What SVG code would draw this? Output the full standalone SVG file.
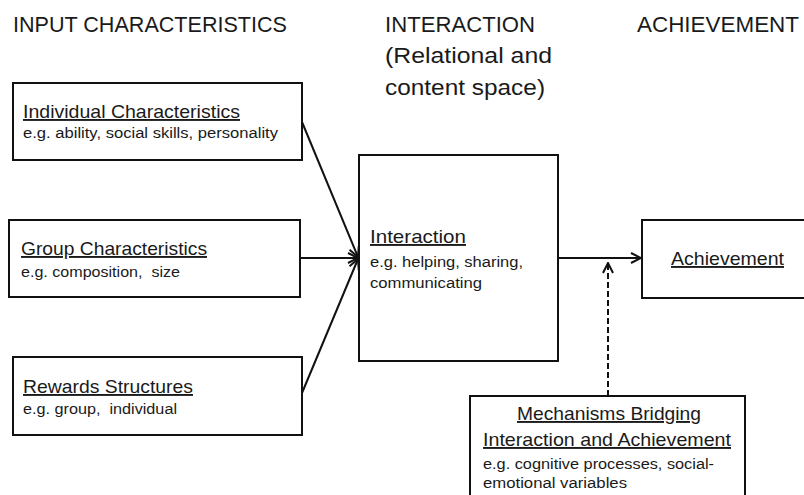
<svg xmlns="http://www.w3.org/2000/svg" width="804" height="495" viewBox="0 0 804 495">
  <style>
    text { font-family: "Liberation Sans", Arial, sans-serif; fill: #1a1a1a; }
    .hdr { font-size: 22px; }
    .ttl { font-size: 19px; text-decoration: underline; }
    .sub { font-size: 15.5px; }
    .box { fill: #ffffff; stroke: #111111; stroke-width: 2; }
    .conn { fill: none; stroke: #111111; stroke-width: 2; }
    .dash { stroke-dasharray: 6 3; }
  </style>
  <defs>
    <marker id="arrow" markerUnits="userSpaceOnUse" viewBox="0 0 12 12" refX="11" refY="6" markerWidth="12" markerHeight="12" orient="auto">
      <path d="M1,1 L11,6 L1,11" fill="none" stroke="#111111" stroke-width="2"/>
    </marker>
  </defs>
  <rect width="804" height="495" fill="#ffffff"/>

  <!-- column headings -->
  <g id="headings">
    <text class="hdr" x="13" y="32" textLength="274" lengthAdjust="spacingAndGlyphs">INPUT CHARACTERISTICS</text>
    <text class="hdr" x="385" y="32" textLength="150" lengthAdjust="spacingAndGlyphs">INTERACTION</text>
    <text class="hdr" x="385" y="63" textLength="167" lengthAdjust="spacingAndGlyphs">(Relational and</text>
    <text class="hdr" x="385" y="95" textLength="160" lengthAdjust="spacingAndGlyphs">content space)</text>
    <text class="hdr" x="637" y="32" textLength="162" lengthAdjust="spacingAndGlyphs">ACHIEVEMENT</text>
  </g>

  <!-- connectors -->
  <g id="connectors">
    <line class="conn" x1="302" y1="122" x2="358" y2="257" marker-end="url(#arrow)"/>
    <line class="conn" x1="300" y1="258" x2="358" y2="258" marker-end="url(#arrow)"/>
    <line class="conn" x1="302" y1="393" x2="358" y2="259" marker-end="url(#arrow)"/>
    <line class="conn" x1="558" y1="258" x2="641" y2="258" marker-end="url(#arrow)"/>
    <line class="conn dash" x1="608" y1="396" x2="608" y2="263" marker-end="url(#arrow)"/>
  </g>

  <g id="individual">
    <rect class="box" x="13" y="83" width="289" height="77"/>
    <text class="ttl" x="23" y="118" textLength="217" lengthAdjust="spacingAndGlyphs">Individual Characteristics</text>
    <text class="sub" x="23" y="138" textLength="255" lengthAdjust="spacingAndGlyphs">e.g. ability, social skills, personality</text>
  </g>

  <g id="group">
    <rect class="box" x="9" y="220" width="291" height="77"/>
    <text class="ttl" x="21" y="255" textLength="186" lengthAdjust="spacingAndGlyphs">Group Characteristics</text>
    <text class="sub" x="21" y="277" textLength="159" lengthAdjust="spacingAndGlyphs" xml:space="preserve">e.g. composition,  size</text>
  </g>

  <g id="rewards">
    <rect class="box" x="13" y="357" width="289" height="78"/>
    <text class="ttl" x="23" y="393" textLength="170" lengthAdjust="spacingAndGlyphs">Rewards Structures</text>
    <text class="sub" x="23" y="414" textLength="154" lengthAdjust="spacingAndGlyphs" xml:space="preserve">e.g. group,  individual</text>
  </g>

  <g id="interaction">
    <rect class="box" x="359" y="155" width="199" height="206"/>
    <text class="ttl" x="370" y="243" textLength="96" lengthAdjust="spacingAndGlyphs">Interaction</text>
    <text class="sub" x="370" y="267" textLength="153" lengthAdjust="spacingAndGlyphs">e.g. helping, sharing,</text>
    <text class="sub" x="370" y="288" textLength="112" lengthAdjust="spacingAndGlyphs">communicating</text>
  </g>

  <g id="achievement">
    <rect class="box" x="642" y="220" width="200" height="78"/>
    <text class="ttl" x="671" y="265" textLength="113" lengthAdjust="spacingAndGlyphs">Achievement</text>
  </g>

  <g id="mechanisms">
    <rect class="box" x="470" y="396" width="275" height="120"/>
    <text class="ttl" x="517" y="420" textLength="184" lengthAdjust="spacingAndGlyphs">Mechanisms Bridging</text>
    <text class="ttl" x="483" y="446" textLength="248" lengthAdjust="spacingAndGlyphs">Interaction and Achievement</text>
    <text class="sub" x="483" y="469" textLength="231" lengthAdjust="spacingAndGlyphs">e.g. cognitive processes, social-</text>
    <text class="sub" x="483" y="488" textLength="144" lengthAdjust="spacingAndGlyphs">emotional variables</text>
  </g>
</svg>
